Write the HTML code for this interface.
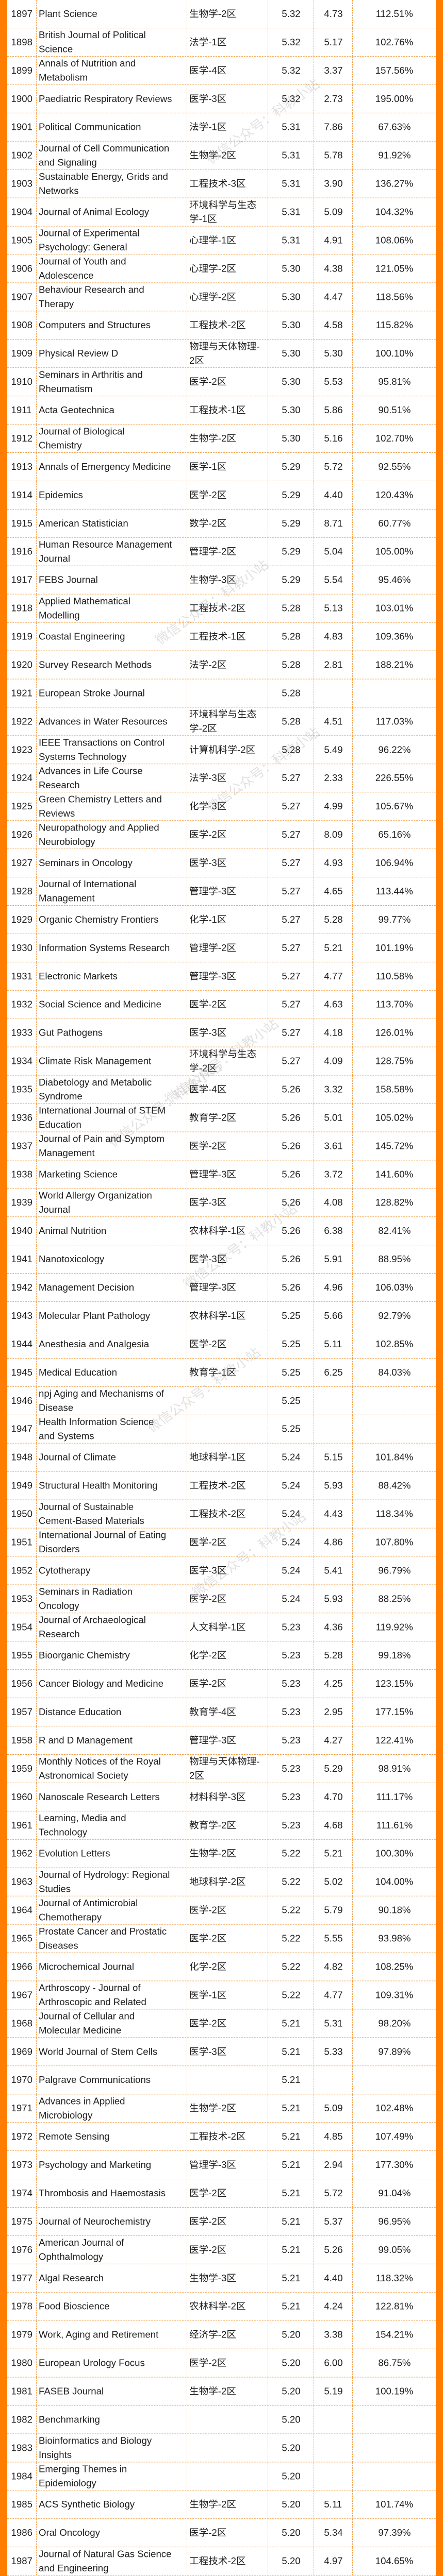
<!DOCTYPE html>
<html>
<head>
<meta charset="utf-8">
<style>
html,body{margin:0;padding:0;overflow:hidden;background:#fff;}
#stage{position:absolute;left:0;top:0;width:859px;height:5461px;overflow:hidden;background:#fff;transform-origin:0 0;
  font-family:"Liberation Sans","Noto Sans CJK SC",sans-serif;color:#1e1e1e;}
.bar{position:absolute;top:0;height:5461px;width:14px;background:#ff7d00;}
#table{position:absolute;left:0;top:0;width:859px;height:5461px;overflow:hidden;}
.row{position:absolute;left:14px;width:831px;height:60px;border-bottom:1px dashed #f39a3c;box-sizing:border-box;overflow:hidden;}
.cell{position:absolute;top:0;height:60px;display:flex;align-items:center;box-sizing:border-box;overflow:hidden;}
.vl{border-left:1px dashed #f39a3c;}
.t{display:inline-block;white-space:nowrap;font-size:20px;line-height:30px;transform:scaleX(0.93);}
.l .t{transform-origin:left center;}
.c{justify-content:center;}
.c .t{transform-origin:center center;}
.wm{position:absolute;font-size:27px;line-height:30px;color:rgba(120,120,120,0.22);white-space:nowrap;transform:rotate(-38deg);transform-origin:center;pointer-events:none;}
</style>
</head>
<body>
<div id="stage">
<div class="bar" style="left:0"></div>
<div class="bar" style="left:845px"></div>
<div id="table"></div>
</div>
<script>
const ranks = [];
for (let r = 1897; r <= 1987; r++) ranks.push(r);
const names = [
"Plant Science","British Journal of Political\nScience","Annals of Nutrition and\nMetabolism","Paediatric Respiratory Reviews","Political Communication",
"Journal of Cell Communication\nand Signaling","Sustainable Energy, Grids and\nNetworks","Journal of Animal Ecology","Journal of Experimental\nPsychology: General","Journal of Youth and\nAdolescence",
"Behaviour Research and\nTherapy","Computers and Structures","Physical Review D","Seminars in Arthritis and\nRheumatism","Acta Geotechnica",
"Journal of Biological\nChemistry","Annals of Emergency Medicine","Epidemics","American Statistician","Human Resource Management\nJournal",
"FEBS Journal","Applied Mathematical\nModelling","Coastal Engineering","Survey Research Methods","European Stroke Journal",
"Advances in Water Resources","IEEE Transactions on Control\nSystems Technology","Advances in Life Course\nResearch","Green Chemistry Letters and\nReviews","Neuropathology and Applied\nNeurobiology",
"Seminars in Oncology","Journal of International\nManagement","Organic Chemistry Frontiers","Information Systems Research","Electronic Markets",
"Social Science and Medicine","Gut Pathogens","Climate Risk Management","Diabetology and Metabolic\nSyndrome","International Journal of STEM\nEducation",
"Journal of Pain and Symptom\nManagement","Marketing Science","World Allergy Organization\nJournal","Animal Nutrition","Nanotoxicology",
"Management Decision","Molecular Plant Pathology","Anesthesia and Analgesia","Medical Education","npj Aging and Mechanisms of\nDisease",
"Health Information Science\nand Systems","Journal of Climate","Structural Health Monitoring","Journal of Sustainable\nCement-Based Materials","International Journal of Eating\nDisorders",
"Cytotherapy","Seminars in Radiation\nOncology","Journal of Archaeological\nResearch","Bioorganic Chemistry","Cancer Biology and Medicine",
"Distance Education","R and D Management","Monthly Notices of the Royal\nAstronomical Society","Nanoscale Research Letters","Learning, Media and\nTechnology",
"Evolution Letters","Journal of Hydrology: Regional\nStudies","Journal of Antimicrobial\nChemotherapy","Prostate Cancer and Prostatic\nDiseases","Microchemical Journal",
"Arthroscopy - Journal of\nArthroscopic and Related","Journal of Cellular and\nMolecular Medicine","World Journal of Stem Cells","Palgrave Communications","Advances in Applied\nMicrobiology",
"Remote Sensing","Psychology and Marketing","Thrombosis and Haemostasis","Journal of Neurochemistry","American Journal of\nOphthalmology",
"Algal Research","Food Bioscience","Work, Aging and Retirement","European Urology Focus","FASEB Journal",
"Benchmarking","Bioinformatics and Biology\nInsights","Emerging Themes in\nEpidemiology","ACS Synthetic Biology","Oral Oncology",
"Journal of Natural Gas Science\nand Engineering"];
const categories = [
"生物学-2区","法学-1区","医学-4区","医学-3区","法学-1区",
"生物学-2区","工程技术-3区","环境科学与生态\n学-1区","心理学-1区","心理学-2区",
"心理学-2区","工程技术-2区","物理与天体物理-\n2区","医学-2区","工程技术-1区",
"生物学-2区","医学-1区","医学-2区","数学-2区","管理学-2区",
"生物学-3区","工程技术-2区","工程技术-1区","法学-2区","",
"环境科学与生态\n学-2区","计算机科学-2区","法学-3区","化学-3区","医学-2区",
"医学-3区","管理学-3区","化学-1区","管理学-2区","管理学-3区",
"医学-2区","医学-3区","环境科学与生态\n学-2区","医学-4区","教育学-2区",
"医学-2区","管理学-3区","医学-3区","农林科学-1区","医学-3区",
"管理学-3区","农林科学-1区","医学-2区","教育学-1区","",
"","地球科学-1区","工程技术-2区","工程技术-2区","医学-2区",
"医学-3区","医学-2区","人文科学-1区","化学-2区","医学-2区",
"教育学-4区","管理学-3区","物理与天体物理-\n2区","材料科学-3区","教育学-2区",
"生物学-2区","地球科学-2区","医学-2区","医学-2区","化学-2区",
"医学-1区","医学-2区","医学-3区","","生物学-2区",
"工程技术-2区","管理学-3区","医学-2区","医学-2区","医学-2区",
"生物学-3区","农林科学-2区","经济学-2区","医学-2区","生物学-2区",
"","","","生物学-2区","医学-2区",
"工程技术-2区"];
const impact2023 = [
"5.32","5.32","5.32","5.32","5.31","5.31","5.31","5.31","5.31","5.30",
"5.30","5.30","5.30","5.30","5.30","5.30","5.29","5.29","5.29","5.29",
"5.29","5.28","5.28","5.28","5.28","5.28","5.28","5.27","5.27","5.27",
"5.27","5.27","5.27","5.27","5.27","5.27","5.27","5.27","5.26","5.26",
"5.26","5.26","5.26","5.26","5.26","5.26","5.25","5.25","5.25","5.25",
"5.25","5.24","5.24","5.24","5.24","5.24","5.24","5.23","5.23","5.23",
"5.23","5.23","5.23","5.23","5.23","5.22","5.22","5.22","5.22","5.22",
"5.22","5.21","5.21","5.21","5.21","5.21","5.21","5.21","5.21","5.21",
"5.21","5.21","5.20","5.20","5.20","5.20","5.20","5.20","5.20","5.20",
"5.20"];
const impactPrev = [
"4.73","5.17","3.37","2.73","7.86","5.78","3.90","5.09","4.91","4.38",
"4.47","4.58","5.30","5.53","5.86","5.16","5.72","4.40","8.71","5.04",
"5.54","5.13","4.83","2.81","","4.51","5.49","2.33","4.99","8.09",
"4.93","4.65","5.28","5.21","4.77","4.63","4.18","4.09","3.32","5.01",
"3.61","3.72","4.08","6.38","5.91","4.96","5.66","5.11","6.25","",
"","5.15","5.93","4.43","4.86","5.41","5.93","4.36","5.28","4.25",
"2.95","4.27","5.29","4.70","4.68","5.21","5.02","5.79","5.55","4.82",
"4.77","5.31","5.33","","5.09","4.85","2.94","5.72","5.37","5.26",
"4.40","4.24","3.38","6.00","5.19","","","","5.11","5.34",
"4.97"];
const growth = [
"112.51%","102.76%","157.56%","195.00%","67.63%","91.92%","136.27%","104.32%","108.06%","121.05%",
"118.56%","115.82%","100.10%","95.81%","90.51%","102.70%","92.55%","120.43%","60.77%","105.00%",
"95.46%","103.01%","109.36%","188.21%","","117.03%","96.22%","226.55%","105.67%","65.16%",
"106.94%","113.44%","99.77%","101.19%","110.58%","113.70%","126.01%","128.75%","158.58%","105.02%",
"145.72%","141.60%","128.82%","82.41%","88.95%","106.03%","92.79%","102.85%","84.03%","",
"","101.84%","88.42%","118.34%","107.80%","96.79%","88.25%","119.92%","99.18%","123.15%",
"177.15%","122.41%","98.91%","111.17%","111.61%","100.30%","104.00%","90.18%","93.98%","108.25%",
"109.31%","98.20%","97.89%","","102.48%","107.49%","177.30%","91.04%","96.95%","99.05%",
"118.32%","122.81%","154.21%","86.75%","100.19%","","","","101.74%","97.39%",
"104.65%"];

const ROW_H = 60;
const cols = [
  {x:0,   w:56,  cls:"c",    name:"rank-cell"},
  {x:56,  w:292, cls:"l vl", name:"journal-name-cell", pad:4},
  {x:348, w:157, cls:"l vl", name:"category-cell", pad:4},
  {x:505, w:89,  cls:"c vl", name:"impact-factor-cell"},
  {x:594, w:75,  cls:"c vl", name:"previous-impact-cell"},
  {x:669, w:162, cls:"c vl", name:"growth-rate-cell"}
];
const table = document.getElementById('table');
ranks.forEach((rank, i) => {
  const row = document.createElement('div');
  row.className = 'row';
  row.style.top = (i * ROW_H) + 'px';
  
  
  const vals = [String(rank), names[i], categories[i], impact2023[i], impactPrev[i], growth[i]];
  cols.forEach((c, j) => {
    const cell = document.createElement('div');
    cell.className = 'cell ' + c.cls;
    cell.style.left = c.x + 'px';
    cell.style.width = c.w + 'px';
    if (c.pad) cell.style.paddingLeft = c.pad + 'px';
    
    
    const t = document.createElement('span');
    t.className = 't';
    t.innerHTML = vals[j].split('\n').join('<br>');
    cell.appendChild(t);
    row.appendChild(cell);
  });
  table.appendChild(row);
});

const wmPos = [[510,258],[411,1277],[510,1632],[430,2250],[320,2342],[466,2642],[395,2947],[483,3295]];
wmPos.forEach(p => {
  const w = document.createElement('div');
  w.className = 'wm';
  w.textContent = '微信公众号：科教小站';
  
  
  table.appendChild(w);
  w.style.left = (p[0] - w.offsetWidth / 2) + 'px';
  w.style.top = (p[1] - w.offsetHeight / 2) + 'px';
});

function fitStage() {
  const stage = document.getElementById('stage');
  const vw = document.documentElement.clientWidth || window.innerWidth || 859;
  const vh = window.innerHeight || document.documentElement.clientHeight || 5461;
  const sx = vw / 859, sy = vh / 5461;
  stage.style.transform = 'scale(' + sx + ',' + sy + ')';
  document.body.style.width = vw + 'px';
  document.body.style.height = vh + 'px';
}
fitStage();
window.addEventListener('resize', fitStage);
</script>
</body>
</html>
